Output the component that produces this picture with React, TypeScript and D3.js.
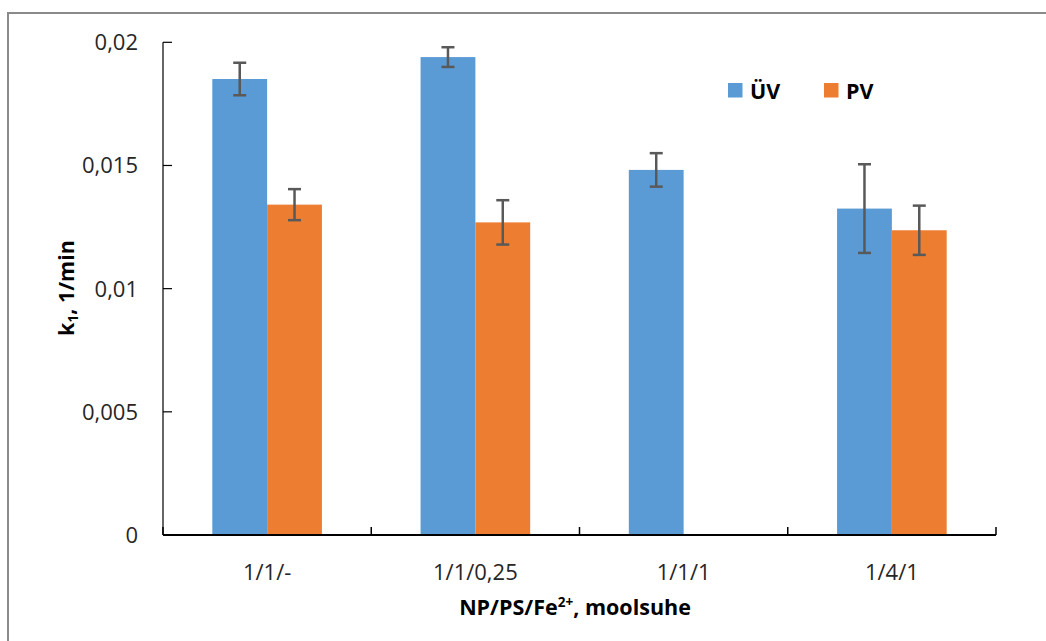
import React, { useEffect, useRef } from 'react'
import * as d3 from 'd3'

const categories = ['1/1/-', '1/1/0,25', '1/1/1', '1/4/1']
const seriesNames = ['ÜV', 'PV']
const uvValues = [0.01851, 0.0194, 0.01482, 0.01325]
const uvErrors = [0.00066, 0.0004, 0.00068, 0.0018]
const pvValues: (number | null)[] = [0.01341, 0.01269, null, 0.01237]
const pvErrors: (number | null)[] = [0.00063, 0.0009, null, 0.001]
const yTicks = [0, 0.005, 0.01, 0.015, 0.02]

const colors = ['#5B9BD5', '#ED7D31']
const font = '"Open Sans", sans-serif'

const App = () => {
  const ref = useRef<SVGSVGElement | null>(null)

  useEffect(() => {
    const svg = d3.select(ref.current)
    svg.selectAll('*').remove()

    const width = 1046
    const height = 641
    const left = 163
    const right = 996
    const top = 42.3
    const bottom = 535

    svg.attr('width', width).attr('height', height)

    // chart frame (clipped on right and bottom like the source)
    svg
      .append('rect')
      .attr('x', 8)
      .attr('y', 13)
      .attr('width', 1200)
      .attr('height', 800)
      .attr('fill', 'white')
      .attr('stroke', '#8a8a8a')
      .attr('stroke-width', 2)

    const x = d3.scaleBand().domain(categories).range([left, right]).padding(0)
    const inner = d3
      .scaleBand()
      .domain(seriesNames)
      .range([0, x.bandwidth()])
      .paddingInner(0)
      .paddingOuter(0.9)
    const y = d3.scaleLinear().domain([0, 0.02]).range([bottom, top])

    const fmt = (v: number) => (v === 0 ? '0' : d3.format('.3~f')(v).replace('.', ','))

    const rows = categories.map((c, i) => [
      { cat: c, s: 'ÜV', v: uvValues[i], e: uvErrors[i], color: colors[0] },
      { cat: c, s: 'PV', v: pvValues[i], e: pvErrors[i], color: colors[1] },
    ]).flat().filter((d) => d.v != null) as { cat: string; s: string; v: number; e: number; color: string }[]

    // bars
    svg
      .append('g')
      .selectAll('rect')
      .data(rows)
      .enter()
      .append('rect')
      .attr('x', (d) => (x(d.cat) as number) + (inner(d.s) as number))
      .attr('y', (d) => y(d.v))
      .attr('width', inner.bandwidth())
      .attr('height', (d) => bottom - y(d.v))
      .attr('fill', (d) => d.color)

    // error bars
    const err = svg.append('g').attr('stroke', '#595959').attr('stroke-width', 2.5)
    rows.forEach((d) => {
      const cx = (x(d.cat) as number) + (inner(d.s) as number) + inner.bandwidth() / 2
      const y1 = y(d.v + d.e)
      const y0 = y(d.v - d.e)
      err.append('line').attr('x1', cx).attr('x2', cx).attr('y1', y1).attr('y2', y0)
      err.append('line').attr('x1', cx - 6.5).attr('x2', cx + 6.5).attr('y1', y1).attr('y2', y1)
      err.append('line').attr('x1', cx - 6.5).attr('x2', cx + 6.5).attr('y1', y0).attr('y2', y0)
    })

    // y axis
    const yAxis = svg.append('g')
    yAxis
      .append('line')
      .attr('x1', left)
      .attr('x2', left)
      .attr('y1', top)
      .attr('y2', bottom)
      .attr('stroke', 'black')
      .attr('stroke-width', 1.2)
    yAxis
      .selectAll('.tick')
      .data(yTicks)
      .enter()
      .append('line')
      .attr('x1', left)
      .attr('x2', left + 9)
      .attr('y1', (d) => y(d))
      .attr('y2', (d) => y(d))
      .attr('stroke', 'black')
      .attr('stroke-width', 1.2)
    yAxis
      .selectAll('text')
      .data(yTicks)
      .enter()
      .append('text')
      .text((d) => fmt(d))
      .attr('x', 138)
      .attr('y', (d) => y(d))
      .attr('dy', '0.36em')
      .attr('text-anchor', 'end')
      .attr('font-family', font)
      .attr('font-size', 22)
      .attr('fill', '#262626')

    // x axis
    const xAxis = svg.append('g')
    xAxis
      .append('line')
      .attr('x1', left)
      .attr('x2', right)
      .attr('y1', bottom)
      .attr('y2', bottom)
      .attr('stroke', 'black')
      .attr('stroke-width', 2)
    xAxis
      .selectAll('.tick')
      .data([...categories.map((c) => x(c) as number), right])
      .enter()
      .append('line')
      .attr('x1', (d) => d)
      .attr('x2', (d) => d)
      .attr('y1', bottom)
      .attr('y2', bottom - 8)
      .attr('stroke', 'black')
      .attr('stroke-width', 1.5)
    xAxis
      .selectAll('text')
      .data(categories)
      .enter()
      .append('text')
      .text((d) => d)
      .attr('x', (d) => (x(d) as number) + x.bandwidth() / 2)
      .attr('y', 580)
      .attr('text-anchor', 'middle')
      .attr('font-family', font)
      .attr('font-size', 22)
      .attr('fill', '#262626')

    // x axis title
    const xt = svg
      .append('text')
      .attr('x', 575)
      .attr('y', 615)
      .attr('text-anchor', 'middle')
      .attr('font-family', font)
      .attr('font-size', 21.5)
      .attr('font-weight', 'bold')
      .attr('fill', 'black')
    xt.append('tspan').text('NP/PS/Fe')
    xt.append('tspan').attr('font-size', 13.5).attr('dy', -8).text('2+')
    xt.append('tspan').attr('dy', 8).text(', moolsuhe')

    // y axis title
    const yt = svg
      .append('text')
      .attr('transform', 'translate(74, 288) rotate(-90)')
      .attr('text-anchor', 'middle')
      .attr('font-family', font)
      .attr('font-size', 21.5)
      .attr('font-weight', 'bold')
      .attr('fill', 'black')
    yt.append('tspan').text('k')
    yt.append('tspan').attr('font-size', 13.5).attr('dy', 4).text('1')
    yt.append('tspan').attr('dy', -4).text(', 1/min')

    // legend
    const legendX = [728, 824]
    const legend = svg
      .append('g')
      .selectAll('g')
      .data(seriesNames)
      .enter()
      .append('g')
      .attr('transform', (d, i) => `translate(${legendX[i]}, 83)`)
    legend
      .append('rect')
      .attr('width', 14.5)
      .attr('height', 14.5)
      .attr('fill', (d, i) => colors[i])
    legend
      .append('text')
      .text((d) => d)
      .attr('x', 22)
      .attr('y', 15.5)
      .attr('font-family', font)
      .attr('font-size', 21.5)
      .attr('font-weight', 'bold')
      .attr('fill', 'black')
  }, [])

  return <svg ref={ref} style={{ position: 'absolute', left: 0, top: 0, background: 'white' }} />
}

export default App
